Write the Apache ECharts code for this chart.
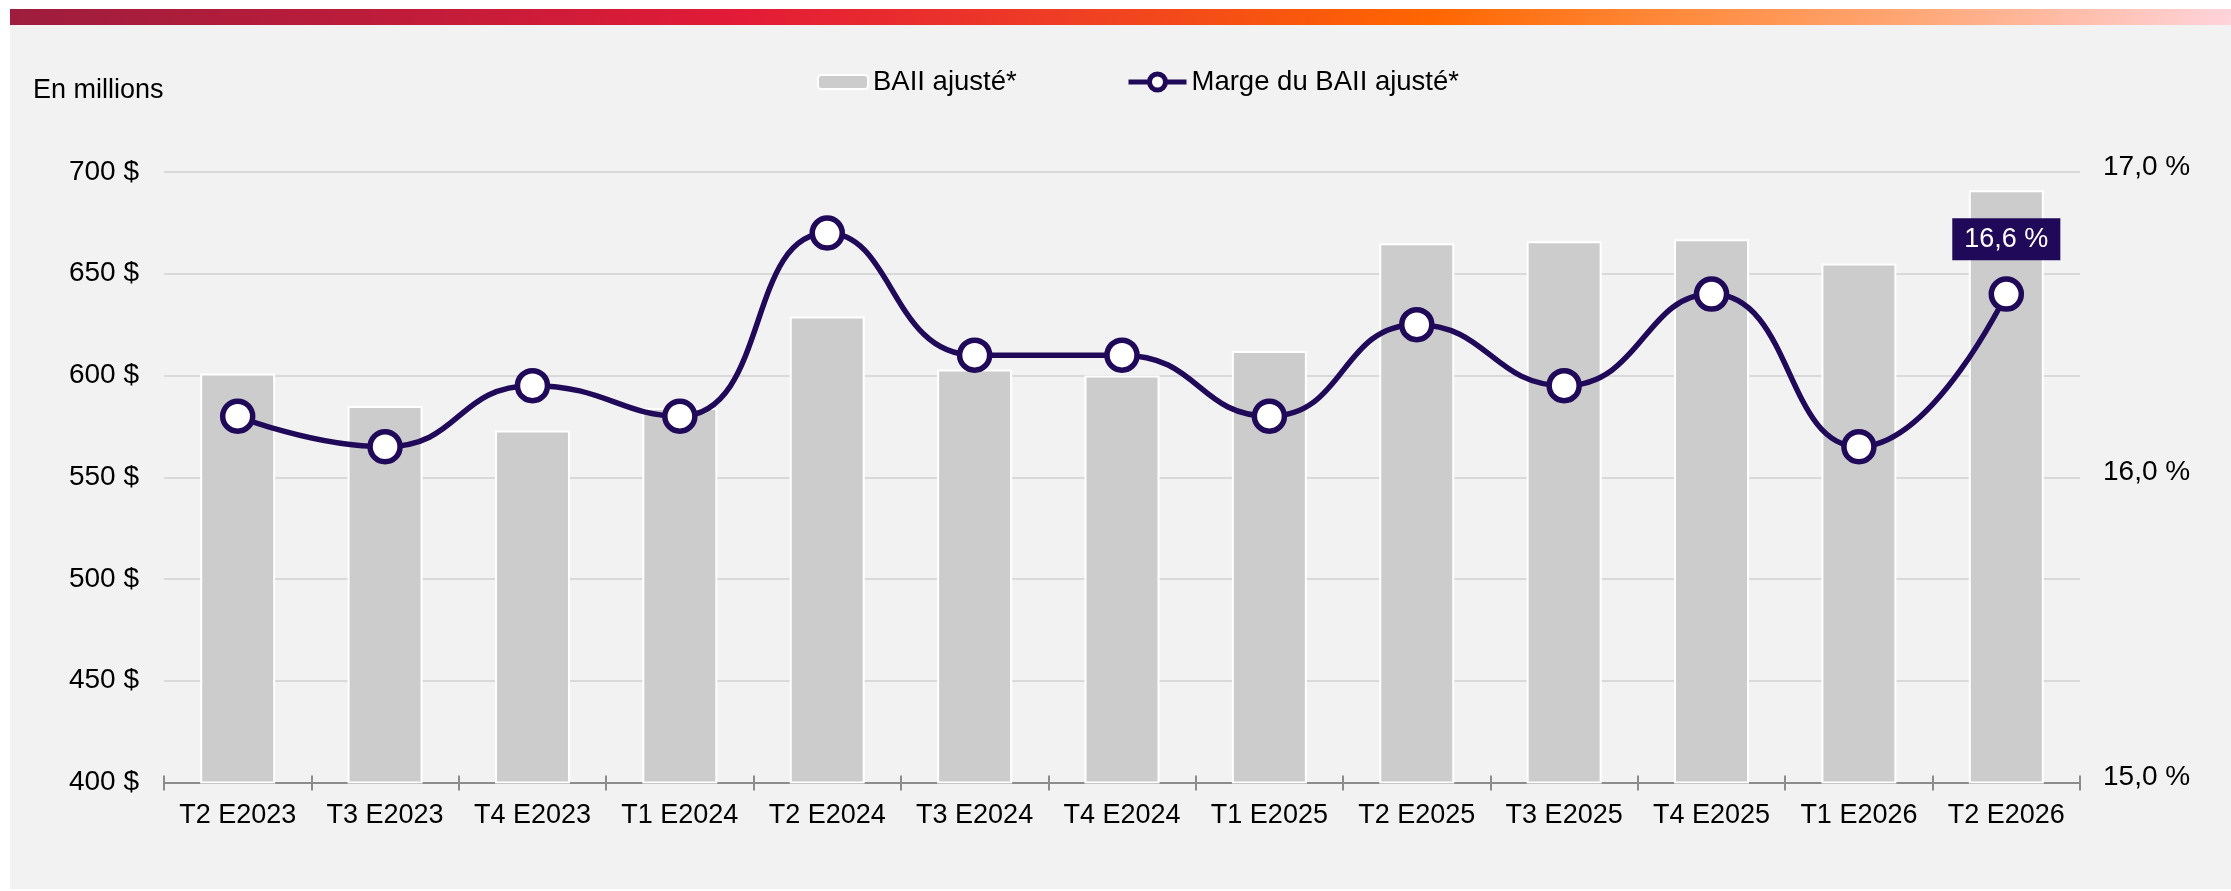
<!DOCTYPE html>
<html>
<head>
<meta charset="utf-8">
<script src="https://cdn.jsdelivr.net/npm/echarts@6/dist/echarts.min.js"></script>
<style>
  html, body { margin: 0; padding: 0; background: #ffffff; width: 2231px; height: 891px; overflow: hidden; }
  #topbar { position: absolute; left: 10px; top: 9px; width: 2221px; height: 16px;
    background: linear-gradient(to right, #9e1d3d 0%, #c01c3a 18%, #e31b37 33%, #ef3f24 48%, #ff6600 64%, #ff8a3c 75%, #ffa878 86%, #ffd3db 100%); }
  #bg { position: absolute; left: 10px; top: 25px; width: 2221px; height: 864px; background: #f2f2f2; }
  #chart { position: absolute; left: 0; top: 0; width: 2231px; height: 891px; }
</style>
</head>
<body>
<div id="topbar"></div>
<div id="bg"></div>
<div id="chart"></div>
<script>
const categories = ['T2 E2023','T3 E2023','T4 E2023','T1 E2024','T2 E2024','T3 E2024','T4 E2024','T1 E2025','T2 E2025','T3 E2025','T4 E2025','T1 E2026','T2 E2026'];
const baiiValues = [601, 585, 573, 584, 629, 603, 600, 612, 665, 666, 667, 655, 691];
const margeValues = [16.2, 16.1, 16.3, 16.2, 16.8, 16.4, 16.4, 16.2, 16.5, 16.3, 16.6, 16.1, 16.6];
const leftTicks = { min: 400, max: 700, interval: 50 };
const rightTicks = { min: 15, max: 17, interval: 1 };
const seriesNames = ['BAII ajusté*', 'Marge du BAII ajusté*'];

const FONT = 'Liberation Sans, Arial, sans-serif';
const PURPLE = '#21095a';
const fmtPct = v => v.toFixed(1).replace('.', ',') + ' %';

const chart = echarts.init(document.getElementById('chart'), null, { renderer: 'canvas' });
const lineData = margeValues.map((v, i) => i === margeValues.length - 1
  ? { value: v, label: { show: true } } : v);

chart.setOption({
  backgroundColor: 'transparent',
  textStyle: { fontFamily: FONT, color: '#000' },
  title: {
    text: 'En millions', left: 28, top: 72,
    textStyle: { fontFamily: FONT, fontSize: 27, fontWeight: 'normal', color: '#000' }
  },
  legend: [
    { data: [seriesNames[0]], left: 812, top: 63, itemWidth: 50, itemHeight: 14,
      textStyle: { fontFamily: FONT, fontSize: 27.5, color: '#000' } },
    { data: [seriesNames[1]], left: 1121, top: 63, itemWidth: 58, itemHeight: 20,
      lineStyle: { width: 5 },
      itemStyle: { borderWidth: 5 },
      textStyle: { fontFamily: FONT, fontSize: 27.5, color: '#000' } }
  ],
  grid: { left: 164, right: 151, top: 172, bottom: 108.5, containLabel: false },
  xAxis: [
    { type: 'category', data: categories, boundaryGap: true,
      axisLine: { lineStyle: { color: '#8c8c8c', width: 2 } },
      axisTick: { show: true, length: 8, lineStyle: { color: '#8c8c8c', width: 2 } },
      axisLabel: { interval: 0, margin: 20, fontSize: 27, color: '#000', fontFamily: FONT },
      splitLine: { show: false } },
    { type: 'category', data: categories, boundaryGap: true, position: 'bottom',
      axisLine: { show: false },
      axisTick: { show: true, inside: true, length: 7, lineStyle: { color: '#8c8c8c', width: 2 } },
      axisLabel: { show: false }, splitLine: { show: false } }
  ],
  yAxis: [
    { type: 'value', min: leftTicks.min, max: leftTicks.max, interval: leftTicks.interval,
      axisLine: { show: false }, axisTick: { show: false },
      axisLabel: { margin: 25, fontSize: 28, color: '#000', fontFamily: FONT, formatter: v => v + ' $' },
      splitLine: { lineStyle: { color: '#d9d9d9', width: 2 } } },
    { type: 'value', min: rightTicks.min, max: rightTicks.max, interval: rightTicks.interval,
      position: 'right',
      axisLine: { show: false }, axisTick: { show: false },
      axisLabel: { margin: 23, color: '#000', fontFamily: FONT,
        formatter: v => '{p|' + fmtPct(v) + '}',
        rich: { p: { fontSize: 28, fontFamily: FONT, color: '#000', padding: [0, 0, 10, 0] } } },
      splitLine: { show: false } }
  ],
  series: [
    { name: seriesNames[0], type: 'bar', data: baiiValues, xAxisIndex: 0, yAxisIndex: 0,
      barWidth: 75,
      itemStyle: { color: '#cccccc', borderColor: '#ffffff', borderWidth: 2 } },
    { name: seriesNames[1], type: 'line', data: lineData, xAxisIndex: 0, yAxisIndex: 1,
      smooth: 0.5, symbol: 'circle', symbolSize: 30,
      lineStyle: { color: PURPLE, width: 5.5 },
      itemStyle: { color: '#ffffff', borderColor: PURPLE, borderWidth: 5.5 },
      label: { show: false, position: 'top', distance: 16, formatter: p => fmtPct(p.value),
        backgroundColor: PURPLE, color: '#ffffff', fontSize: 27, fontFamily: FONT,
        padding: [7, 12, 7, 12], lineHeight: 28 },
      z: 5 }
  ],
  animation: false
});
</script>
</body>
</html>
